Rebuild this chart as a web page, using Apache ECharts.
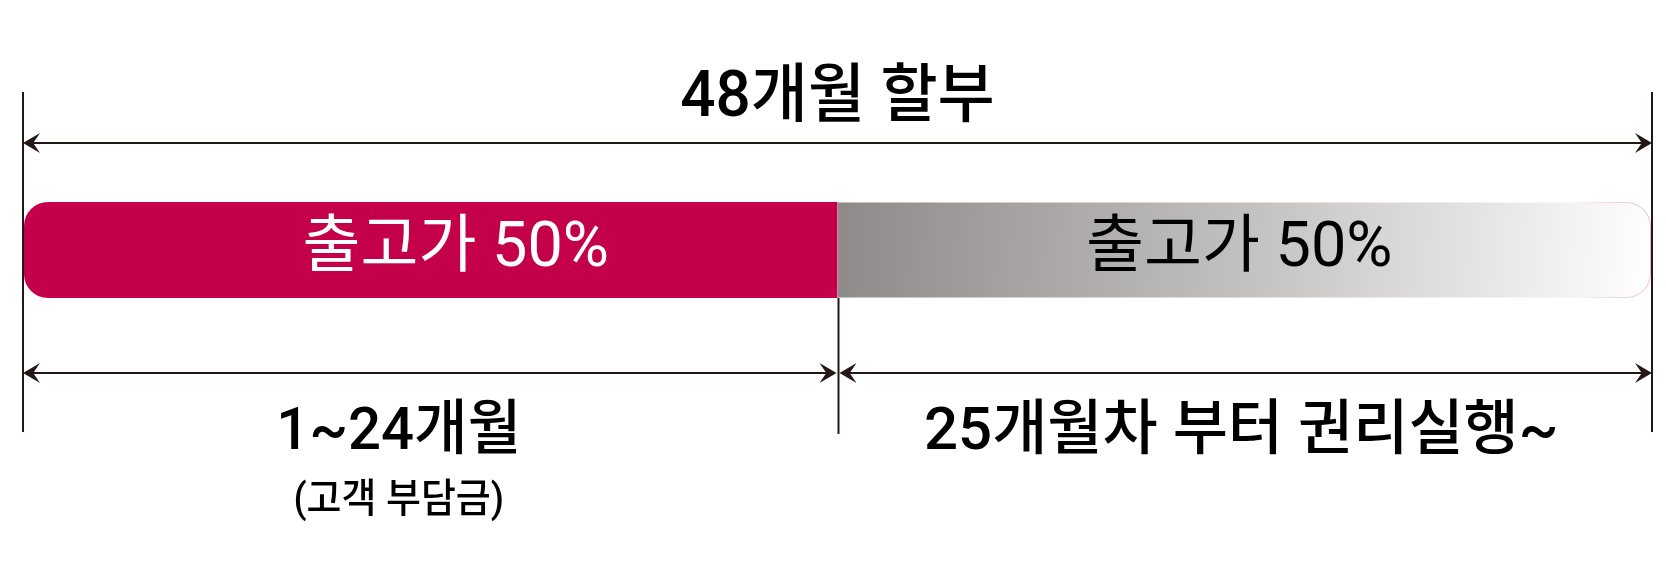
<!DOCTYPE html>
<html>
<head>
<meta charset="utf-8">
<title>48개월 할부</title>
<script src="https://cdn.jsdelivr.net/npm/echarts@6/dist/echarts.min.js"></script>
<style>
  html, body { margin: 0; padding: 0; background: #fff; }
  #main { width: 1666px; height: 567px; }
</style>
</head>
<body>
<div id="main"></div>
<script>
  // data
  const totalMonths = 48
  const totalLabel = '48개월 할부'
  const phaseMonths = [24, 24]
  const phaseShares = ['출고가 50%', '출고가 50%']
  const phaseLabels = ['1~24개월', '25개월차 부터 권리실행~']
  const phaseNotes = ['(고객 부담금)', '']

  // style
  const FONT = 'Roboto, "Noto Sans CJK KR", sans-serif'
  const INK = '#231815'
  const LABEL_SHIFT = [-32, -3]         // px shift of the phase labels
  const LABEL_SCALE = [0.97, 1.0]
  const SHARE_SHIFT = [25, -5]
  const Y = { title: 100, top: 143, barBottom: 298, bottom: 373, label: 434, note: 502, extTop: 92, extBottom: 432, divBottom: 434 }

  let chart = echarts.init(document.getElementById('main'), null, { renderer: 'canvas' })

  let starts = []
  let acc = 0
  phaseMonths.forEach(m => { starts.push(acc); acc += m })

  // spans for the dimension arrows: first the total, then every phase
  let spans = [[0, totalMonths, 0]]
  phaseMonths.forEach((m, i) => spans.push([starts[i], starts[i] + m, 0]))

  const arrowHead = (x, y, dir) => {
    const L = 17, W = 10
    return {
      type: 'polygon',
      shape: { points: [[x, y], [x + dir * L, y - W], [x + dir * L * 0.6, y], [x + dir * L, y + W]] },
      style: { fill: INK }
    }
  }

  const arrow = (x1, x2, y) => [
    { type: 'line', shape: { x1: x1 + 4, y1: y, x2: x2 - 4, y2: y }, style: { stroke: INK, lineWidth: 2 } },
    arrowHead(x1, y, 1),
    arrowHead(x2, y, -1)
  ]

  const vline = (x, y1, y2) => ({ type: 'line', shape: { x1: x, y1: y1, x2: x, y2: y2 }, style: { stroke: INK, lineWidth: 2 } })

  const label = (text, x, y, size, scale, weight, color) => ({
    type: 'text',
    x: x, y: y, scaleX: scale,
    style: { text: text, x: 0, y: 0, align: 'center', verticalAlign: 'middle', fontSize: size, fontFamily: FONT, fontWeight: weight, fill: color || '#000' }
  })

  const renderSpan = (params, api) => {
    let i = params.dataIndex
    let x1 = api.coord([api.value(0), 0])[0]
    let x2 = api.coord([api.value(1), 0])[0]
    let children = []
    if (i === 0) {
      children.push(vline(x1 - 1, Y.extTop, Y.extBottom))
      children.push(vline(x2 + 1, Y.extTop, Y.extBottom))
      children = children.concat(arrow(x1 - 1, x2 + 1, Y.top))
      children.push(label(totalLabel, (x1 + x2) / 2, Y.title, 64, 0.97, 500))
    } else {
      let p = i - 1
      let a = p === 0 ? x1 - 1 : x1 + 2
      let b = p === phaseMonths.length - 1 ? x2 + 1 : x2 - 1
      if (p > 0) children.push(vline(x1 + 1, Y.barBottom, Y.divBottom))
      children = children.concat(arrow(a, b, Y.bottom))
      let cx = (x1 + x2) / 2 + LABEL_SHIFT[p]
      children.push(label(phaseLabels[p], cx, Y.label, 60, LABEL_SCALE[p], 500))
      if (phaseNotes[p]) children.push(label(phaseNotes[p], cx, Y.note, 40, 0.95, 500))
    }
    return { type: 'group', children: children }
  }

  let fills = [
    '#c5004b',
    new echarts.graphic.LinearGradient(0, 0.2, 1, 0.8, [
      { offset: 0, color: '#8e8a89' },
      { offset: 0.5, color: '#c3c1c0' },
      { offset: 1, color: '#ffffff' }
    ])
  ]
  let borders = [
    'rgba(0,0,0,0)',
    new echarts.graphic.LinearGradient(0, 0, 1, 0, [
      { offset: 0, color: 'rgba(235,160,190,0)' },
      { offset: 0.9, color: 'rgba(235,160,190,0)' },
      { offset: 1, color: 'rgba(235,160,190,0.8)' }
    ])
  ]
  let textColors = ['#fff', '#000']

  let series = phaseMonths.map((m, i) => ({
    type: 'bar',
    stack: 'plan',
    barWidth: 96,
    silent: true,
    data: [m],
    itemStyle: {
      color: fills[i],
      borderColor: borders[i],
      borderWidth: i === 0 ? 0 : 1,
      borderRadius: i === 0 ? [24, 0, 0, 24] : [0, 24, 24, 0]
    },
    label: {
      show: true,
      position: 'inside',
      offset: [SHARE_SHIFT[i], 0],
      formatter: phaseShares[i],
      fontSize: 63,
      fontFamily: FONT,
      color: textColors[i]
    }
  }))

  series.push({
    type: 'custom',
    coordinateSystem: 'cartesian2d',
    clip: false,
    silent: true,
    z: 5,
    encode: { x: [0, 1], y: 2 },
    data: spans,
    renderItem: renderSpan
  })

  let option = {
    animation: false,
    backgroundColor: '#fff',
    grid: { left: 24, right: 15, top: 202, bottom: 269 },
    xAxis: { type: 'value', min: 0, max: totalMonths, show: false },
    yAxis: { type: 'category', data: ['plan'], show: false },
    series: series
  }
  chart.setOption(option)
</script>
</body>
</html>
